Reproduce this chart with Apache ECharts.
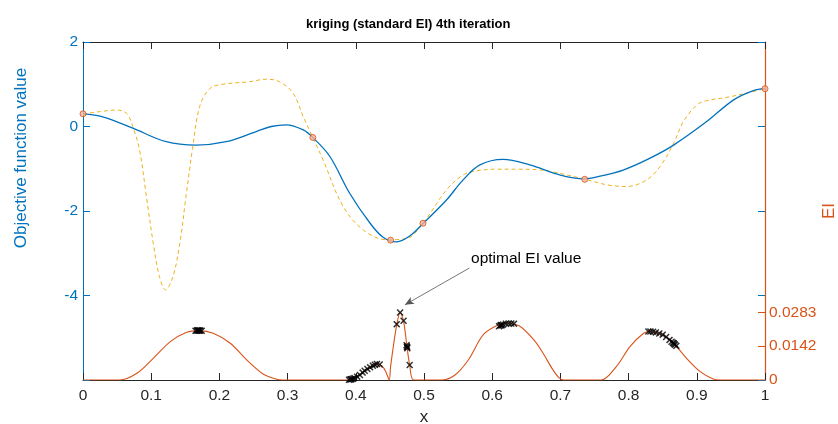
<!DOCTYPE html>
<html>
<head>
<meta charset="utf-8">
<script src="https://cdn.jsdelivr.net/npm/echarts@6/dist/echarts.min.js"></script>
<style>
  html, body { margin: 0; padding: 0; background: #fff; }
  #chart { width: 838px; height: 424px; }
</style>
</head>
<body>
<div id="chart"></div>
<script>
// kriging prediction (blue)
const xKrig = [0, 0.029, 0.073, 0.122, 0.166, 0.210, 0.254, 0.276, 0.298, 0.323, 0.337, 0.362, 0.391, 0.421, 0.440, 0.460, 0.480, 0.499, 0.533, 0.557, 0.582, 0.616, 0.655, 0.700, 0.734, 0.760, 0.792, 0.830, 0.866, 0.914, 0.954, 0.983, 1.0]
const yKrig = [0.30, 0.23, -0.04, -0.36, -0.44, -0.36, -0.12, 0.00, 0.04, -0.08, -0.26, -0.71, -1.58, -2.29, -2.62, -2.73, -2.58, -2.29, -1.74, -1.27, -0.91, -0.78, -0.91, -1.15, -1.24, -1.17, -1.03, -0.76, -0.44, 0.11, 0.63, 0.85, 0.895]
// true function (dashed)
const xTrue = [0, 0.024, 0.049, 0.064, 0.073, 0.083, 0.093, 0.103, 0.112, 0.121, 0.132, 0.142, 0.151, 0.161, 0.171, 0.186, 0.205, 0.244, 0.269, 0.288, 0.308, 0.323, 0.337, 0.352, 0.381, 0.411, 0.445, 0.475, 0.4985, 0.533, 0.557, 0.577, 0.606, 0.640, 0.680, 0.734, 0.768, 0.797, 0.826, 0.846, 0.866, 0.880, 0.900, 0.914, 0.944, 0.973, 1.0]
const yTrue = [0.30, 0.35, 0.39, 0.31, 0.0, -0.56, -1.66, -2.76, -3.55, -3.87, -3.55, -2.76, -1.66, -0.48, 0.47, 0.90, 1.00, 1.06, 1.12, 1.06, 0.79, 0.23, -0.26, -0.79, -1.88, -2.45, -2.68, -2.65, -2.29, -1.50, -1.15, -1.05, -1.01, -1.01, -1.05, -1.24, -1.38, -1.42, -1.27, -0.95, -0.40, 0.11, 0.51, 0.61, 0.69, 0.79, 0.895]
// sampled points
const xSample = [0, 0.337, 0.451, 0.4985, 0.7356, 1.0]
const ySample = [0.30, -0.26, -2.69, -2.29, -1.25, 0.895]
// expected improvement
const xEI = [0, 0.054, 0.079, 0.103, 0.128, 0.152, 0.170, 0.191, 0.216, 0.240, 0.264, 0.284, 0.292, 0.387, 0.395, 0.406, 0.413, 0.421, 0.431, 0.438, 0.444, 0.449, 0.451, 0.455, 0.460, 0.465, 0.470, 0.475, 0.479, 0.485, 0.525, 0.545, 0.565, 0.589, 0.621, 0.640, 0.662, 0.674, 0.687, 0.697, 0.705, 0.760, 0.782, 0.802, 0.822, 0.831, 0.851, 0.866, 0.885, 0.905, 0.924, 0.935, 1.0]
const yEI = [0, 0, 0.0028, 0.0091, 0.0161, 0.0200, 0.0207, 0.0196, 0.0154, 0.0084, 0.0025, 0.0003, 0, 0, 0.0005, 0.0021, 0.0039, 0.0053, 0.0067, 0.0060, 0.0035, 0, 0.0056, 0.0140, 0.0231, 0.0283, 0.0248, 0.0140, 0.0063, 0, 0, 0.0020, 0.0084, 0.0196, 0.0238, 0.0226, 0.0165, 0.0115, 0.0052, 0.0012, 0, 0, 0.0056, 0.0140, 0.0196, 0.0203, 0.0189, 0.0154, 0.0091, 0.0035, 0.0004, 0, 0]
// candidate points of the EI search (black x)
const xCand = [0.165, 0.167, 0.168, 0.169, 0.170, 0.171, 0.172, 0.174, 0.390, 0.392, 0.393, 0.394, 0.396, 0.398, 0.402, 0.406, 0.410, 0.413, 0.417, 0.421, 0.425, 0.428, 0.431, 0.435, 0.460, 0.465, 0.470, 0.4745, 0.475, 0.4752, 0.4755, 0.479, 0.610, 0.612, 0.613, 0.614, 0.616, 0.620, 0.624, 0.628, 0.632, 0.829, 0.832, 0.836, 0.840, 0.845, 0.850, 0.855, 0.860, 0.863, 0.865, 0.866, 0.867, 0.868, 0.870]
const yCand = [0.0206, 0.0207, 0.0208, 0.0207, 0.0207, 0.0207, 0.0207, 0.0206, 0.0001, 0.0002, 0.0003, 0.0004, 0.0005, 0.0008, 0.0014, 0.0021, 0.0031, 0.0039, 0.0046, 0.0053, 0.0060, 0.0064, 0.0067, 0.0065, 0.0234, 0.0283, 0.0248, 0.0146, 0.0140, 0.0137, 0.0133, 0.0063, 0.0225, 0.0228, 0.0230, 0.0229, 0.0232, 0.0236, 0.0237, 0.0237, 0.0236, 0.0203, 0.0203, 0.0202, 0.0199, 0.0195, 0.0190, 0.0180, 0.0168, 0.0160, 0.0156, 0.0154, 0.0151, 0.0148, 0.0143]
const eiTicks = [0, 0.0142, 0.0283]
const eiMax = 0.1416
// annotation (EI axis units)
const arrowFrom = [0.5665, 0.0469]
const arrowTo = [0.472, 0.0315]
const noteAt = [0.569, 0.0507]
const noteText = 'optimal EI value'

const BLUE = '#0072BD', ORANGE = '#D95319', YELLOW = '#EDB120', DARK = '#262626'
const FONT = 'Liberation Sans, Arial, sans-serif'
const pairs = (xs, ys) => xs.map((x, i) => [x, ys[i]])
const crossPath = 'path://M0,1.5L1.5,0L5,3.5L8.5,0L10,1.5L6.5,5L10,8.5L8.5,10L5,6.5L1.5,10L0,8.5L3.5,5Z'

let myChart = echarts.init(document.getElementById('chart'))
let option = {
    animation: false,
    title: {
        text: 'kriging (standard EI) 4th iteration',
        left: 301, top: 13,
        textStyle: {fontFamily: FONT, fontSize: 13, fontWeight: 'bold', color: '#000'}
    },
    grid: {left: 83, right: 73, top: 42, bottom: 44, outerBoundsMode: 'none', containLabel: false},
    xAxis: [
        {
            type: 'value', min: 0, max: 1, interval: 0.1, position: 'bottom',
            name: 'x', nameLocation: 'middle', nameGap: 24,
            nameTextStyle: {fontFamily: FONT, fontSize: 17, color: DARK},
            axisLine: {onZero: false, lineStyle: {color: DARK, width: 1}},
            axisTick: {inside: true, length: 7, lineStyle: {color: DARK}},
            axisLabel: {fontFamily: FONT, fontSize: 15.5, color: DARK, margin: 8},
            splitLine: {show: false}
        },
        {
            type: 'value', position: 'top', min: 0, max: 1, interval: 0.1,
            axisLine: {onZero: false, lineStyle: {color: DARK, width: 1}},
            axisTick: {inside: true, length: 7, lineStyle: {color: DARK}},
            axisLabel: {show: false},
            splitLine: {show: false}
        }
    ],
    yAxis: [
        {
            type: 'value', min: -6, max: 2, interval: 2, position: 'left',
            name: 'Objective function value', nameLocation: 'middle', nameGap: 53, nameMoveOverlap: false,
            // label sits above the axis middle, as in the original
            nameTextStyle: {fontFamily: FONT, fontSize: 17, color: BLUE, padding: [0, 0, 0, 106]},
            axisLine: {show: true, onZero: false, lineStyle: {color: BLUE, width: 1}},
            axisTick: {show: true, inside: true, length: 7, lineStyle: {color: BLUE}},
            axisLabel: {fontFamily: FONT, fontSize: 15.5, color: BLUE, margin: 5,
                formatter: v => v === -6 ? '' : String(v)},
            splitLine: {show: false}
        },
        {
            type: 'value', min: 0, max: eiMax, position: 'right',
            name: 'EI', nameLocation: 'middle', nameGap: 56, nameRotate: 90, nameMoveOverlap: false,
            nameTextStyle: {fontFamily: FONT, fontSize: 17, color: ORANGE},
            axisLine: {show: true, onZero: false, lineStyle: {color: ORANGE, width: 1.2}},
            axisTick: {show: true, inside: true, length: 7, customValues: eiTicks, lineStyle: {color: ORANGE}},
            axisLabel: {fontFamily: FONT, fontSize: 15.5, color: ORANGE, margin: 4, customValues: eiTicks,
                formatter: v => String(v)},
            splitLine: {show: false}
        },
        {
            // ticks of the left axis repeated on the right side
            type: 'value', min: -6, max: 2, interval: 2, position: 'right',
            axisLine: {show: false, onZero: false},
            axisTick: {show: true, inside: true, length: 7, lineStyle: {color: BLUE}},
            axisLabel: {show: false},
            splitLine: {show: false}
        }
    ],
    series: [
        {
            name: 'true', type: 'line', yAxisIndex: 0, data: pairs(xTrue, yTrue),
            smooth: 0.35, showSymbol: false, z: 2,
            lineStyle: {color: YELLOW, width: 1, type: [4, 3]}
        },
        {
            name: 'kriging', type: 'line', yAxisIndex: 0, data: pairs(xKrig, yKrig),
            smooth: 0.35, showSymbol: false, z: 3,
            lineStyle: {color: BLUE, width: 1.3}
        },
        {
            name: 'samples', type: 'scatter', yAxisIndex: 0, data: pairs(xSample, ySample),
            symbol: 'circle', symbolSize: 6, z: 5,
            itemStyle: {color: '#f2b49a', borderColor: ORANGE, borderWidth: 1}
        },
        {
            name: 'EI', type: 'line', yAxisIndex: 1, data: pairs(xEI, yEI),
            smooth: 0.3, showSymbol: false, z: 4,
            lineStyle: {color: ORANGE, width: 1.1},
            markLine: {
                silent: true, symbol: ['none', 'arrow'], symbolSize: [6, 9],
                lineStyle: {color: '#555', width: 0.8, type: 'solid'},
                label: {show: false},
                data: [[{coord: arrowFrom}, {coord: arrowTo}]]
            },
            markPoint: {
                silent: true, symbol: 'circle', symbolSize: 0,
                itemStyle: {color: 'transparent'},
                data: [{coord: noteAt, label: {show: true, position: 'right', distance: 0,
                    formatter: noteText, fontFamily: FONT, fontSize: 15.5, color: '#000'}}]
            }
        },
        {
            name: 'candidates', type: 'scatter', yAxisIndex: 1, data: pairs(xCand, yCand),
            symbol: crossPath, symbolSize: 7, z: 6,
            itemStyle: {color: '#000'}
        }
    ]
}
myChart.setOption(option)
</script>
</body>
</html>
